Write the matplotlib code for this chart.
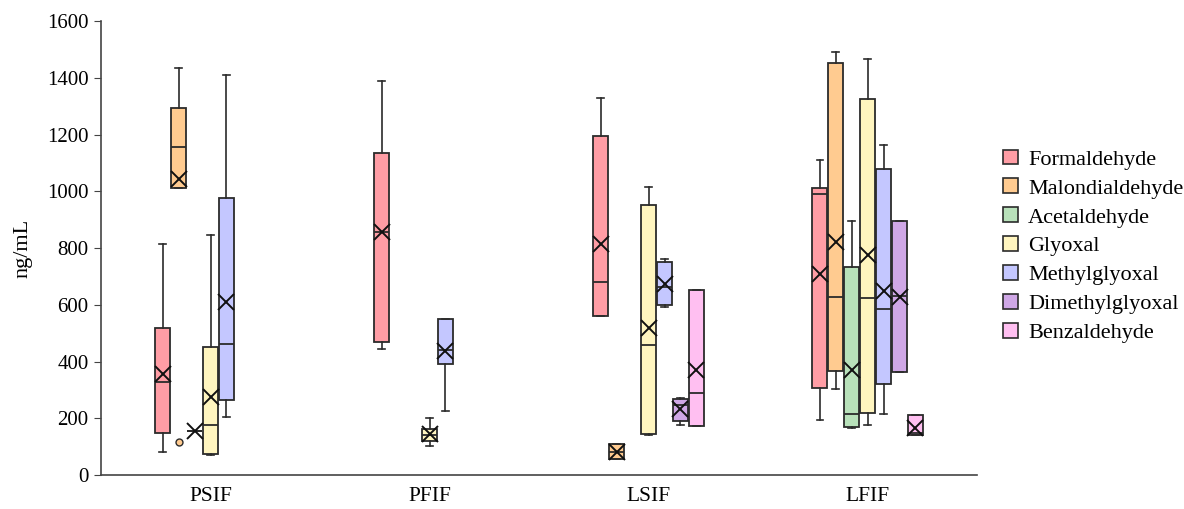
import numpy as np
import matplotlib.pyplot as plt
from matplotlib.patches import Patch

nan = np.nan

GROUPS = ['PSIF', 'PFIF', 'LSIF', 'LFIF']
SERIES = ['Formaldehyde', 'Malondialdehyde', 'Acetaldehyde', 'Glyoxal',
          'Methylglyoxal', 'Dimethylglyoxal', 'Benzaldehyde']
COLORS = ['#FF9DA5', '#FFCB90', '#B8E1BA', '#FFF5BF', '#C4C7FF', '#CFA7E6', '#FFBFF1']

# one row per series, one column per group (ng/mL)
WHISLO = [[82, 445, 561, 194],
          [1012, nan, 56, 303],
          [155, nan, nan, 164],
          [70, 103, 140, 176],
          [206, 227, 593, 215],
          [nan, nan, 176, 364],
          [nan, nan, 174, 141]]
Q1 = [[149, 470, 561, 305],
      [1012, nan, 56, 368],
      [155, nan, nan, 168],
      [73, 121, 144, 217],
      [264, 391, 598, 320],
      [nan, nan, 190, 364],
      [nan, nan, 174, 141]]
MED = [[329, 855, 679, 989],
       [1156, nan, 82, 626],
       [155, nan, nan, 214],
       [176, 141, 457, 623],
       [460, 440, 661, 586],
       [nan, nan, 245, 631],
       [nan, nan, 290, 148]]
Q3 = [[518, 1135, 1195, 1010],
      [1292, nan, 109, 1453],
      [155, nan, nan, 732],
      [450, 161, 953, 1325],
      [977, 549, 751, 1078],
      [nan, nan, 267, 895],
      [nan, nan, 652, 211]]
WHISHI = [[814, 1388, 1327, 1110],
          [1433, nan, 109, 1492],
          [155, nan, nan, 895],
          [846, 200, 1016, 1466],
          [1410, 549, 761, 1163],
          [nan, nan, 270, 895],
          [nan, nan, 652, 211]]
MEAN = [[356, 855, 813, 708],
        [1042, nan, 82, 822],
        [155, nan, nan, 370],
        [276, 144, 517, 775],
        [611, 438, 672, 649],
        [nan, nan, 233, 628],
        [nan, nan, 370, 164]]
# outliers: (series, group) -> values
FLIERS = {(1, 0): [117]}

plt.rcParams['font.family'] = ['Liberation Serif', 'DejaVu Serif']

fig, ax = plt.subplots(figsize=(11.84, 5.09), dpi=100)
fig.subplots_adjust(left=0.0853, right=0.8252, bottom=0.0668, top=0.9587)

slot = 0.073
edge = '#2b2b2b'
for i, name in enumerate(SERIES):
    stats, pos = [], []
    for g in range(len(GROUPS)):
        if np.isnan(MED[i][g]):
            continue
        stats.append(dict(whislo=WHISLO[i][g], q1=Q1[i][g], med=MED[i][g],
                          q3=Q3[i][g], whishi=WHISHI[i][g], mean=MEAN[i][g],
                          fliers=FLIERS.get((i, g), [])))
        pos.append(g + (i - 3) * slot)
    ax.bxp(stats, positions=pos, widths=0.066, capwidths=0.028,
           patch_artist=True, showmeans=True, manage_ticks=False,
           boxprops=dict(facecolor=COLORS[i], edgecolor=edge, linewidth=1.3),
           medianprops=dict(color=edge, linewidth=1.3),
           whiskerprops=dict(color=edge, linewidth=1.2),
           capprops=dict(color=edge, linewidth=1.2),
           meanprops=dict(marker='x', markeredgecolor='#111111',
                          markersize=12, markeredgewidth=1.4),
           flierprops=dict(marker='o', markerfacecolor=COLORS[i],
                           markeredgecolor=edge, markersize=5))

ax.set_xlim(-0.5, 3.5)
ax.set_ylim(0, 1600)
ax.set_yticks(range(0, 1601, 200))
ax.set_xticks(range(len(GROUPS)))
ax.set_xticklabels(GROUPS)
ax.tick_params(axis='x', length=0, pad=9, labelsize=15.5)
ax.tick_params(axis='y', direction='out', length=5, pad=4, labelsize=15, color='#444444')
ax.spines['top'].set_visible(False)
ax.spines['right'].set_visible(False)
for s in ['left', 'bottom']:
    ax.spines[s].set_color('#444444')
    ax.spines[s].set_linewidth(1.2)
ax.set_ylabel('ng/mL', fontsize=16, labelpad=10)

handles = [Patch(facecolor=c, edgecolor=edge, linewidth=1.2) for c in COLORS]
fig.legend(handles, SERIES, loc='center left', bbox_to_anchor=(0.840, 0.516),
           frameon=False, fontsize=16, handlelength=0.65, handleheight=0.65,
           handletextpad=0.45, labelspacing=0.39, borderaxespad=0)

fig.savefig('out.png', dpi=100)
